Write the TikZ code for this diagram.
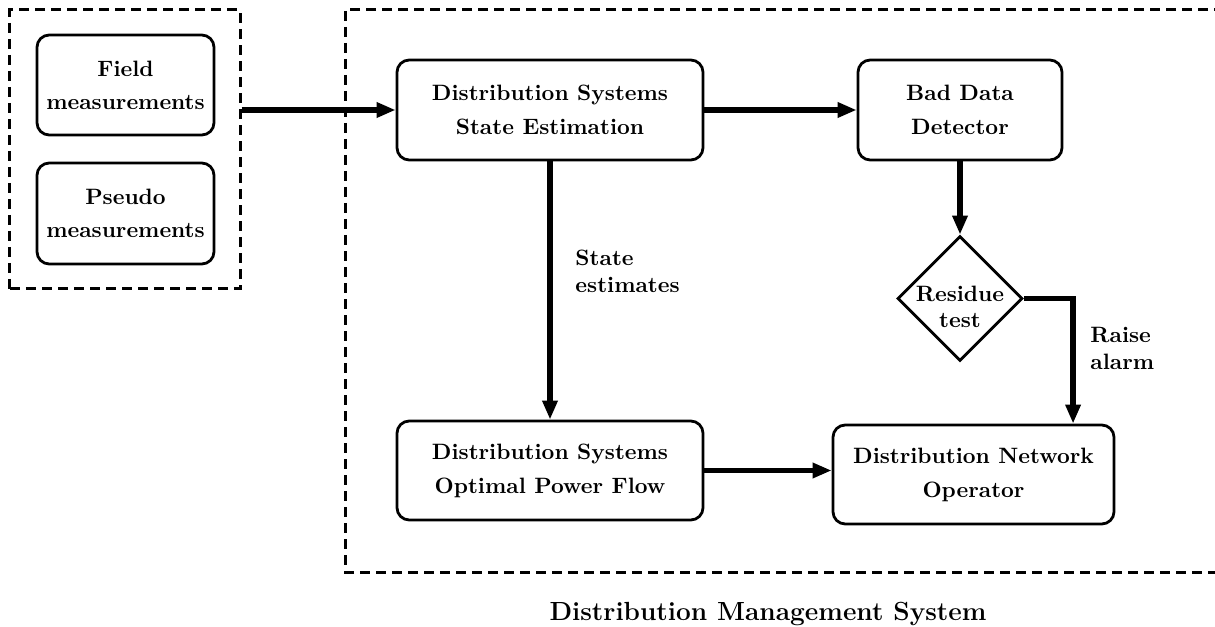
\documentclass[tikz,border=0pt]{standalone}
\usetikzlibrary{arrows.meta,shapes.geometric}
\begin{document}
\begin{tikzpicture}[x=0.45pt,y=-0.45pt,
  block/.style={draw, line width=1.25pt, rounded corners=5.5pt, align=center,
                font=\bfseries, inner sep=0pt},
  group/.style={draw, line width=1.35pt, dash pattern=on 4.4pt off 2.8pt},
  arr/.style={line width=2.4pt, -{Triangle[length=8.5pt,width=6.5pt]}},
  lbl/.style={font=\bfseries, align=left, inner sep=0pt}
]
\path[use as bounding box, clip] (0,0) rectangle (1215,627);

% measurement sources
\node[group, minimum width=103.5pt, minimum height=125.55pt] (meas) at (125,149.5) {};
\node[block, minimum width=79.65pt, minimum height=45pt] (field) at (125.5,85)
  {Field\\[2.8pt] measurements};
\node[block, minimum width=79.65pt, minimum height=45.45pt] (pseudo) at (125.5,213.5)
  {Pseudo\\[2.8pt] measurements};

% distribution management system frame (open to the right)
\draw[group] (1240,10) -- (345,10) -- (345,572) -- (1240,572);

% processing blocks
\node[block, minimum width=137.7pt, minimum height=45pt] (dsse) at (550,110)
  {Distribution Systems\\[3.3pt] State Estimation};
\node[block, minimum width=91.8pt, minimum height=45pt] (bdd) at (960,110)
  {Bad Data\\[3.3pt] Detector};
\node[draw, diamond, line width=1.25pt, minimum width=56.25pt, minimum height=56.25pt,
      inner sep=0pt] (rt) at (960,298.5) {};
\node[font=\bfseries, align=center, inner sep=0pt] (rttext) at (960,307) {Residue\\test};
\node[block, minimum width=137.7pt, minimum height=44.55pt] (dsopf) at (550,470.5)
  {Distribution Systems\\[3.3pt] Optimal Power Flow};
\node[block, minimum width=126.45pt, minimum height=44.55pt] (dno) at (973.5,474.5)
  {Distribution Network\\[3.3pt] Operator};

% connectors
\draw[arr] (dsse.west -| meas.east) -- (dsse.west);
\draw[arr] (dsse.east) -- (bdd.west);
\draw[arr] (bdd.south) -- (rt.north);
\draw[arr] (dsse.south) -- (dsopf.north);
\draw[arr] (dsopf.east) -- (dsopf.east -| dno.west);
\draw[arr] (rt.east) -| ([xshift=44.8pt]dno.north);

% labels
\node[lbl, anchor=north west] (se) at (575,250) {State\\estimates};
\node[lbl, anchor=north west] (ra) at (1090,327) {Raise\\alarm};
\node[font=\fontsize{11.8}{14}\selectfont\bfseries, anchor=base, inner sep=0pt] (dms)
  at (768,620) {Distribution Management System};
\end{tikzpicture}
\end{document}
